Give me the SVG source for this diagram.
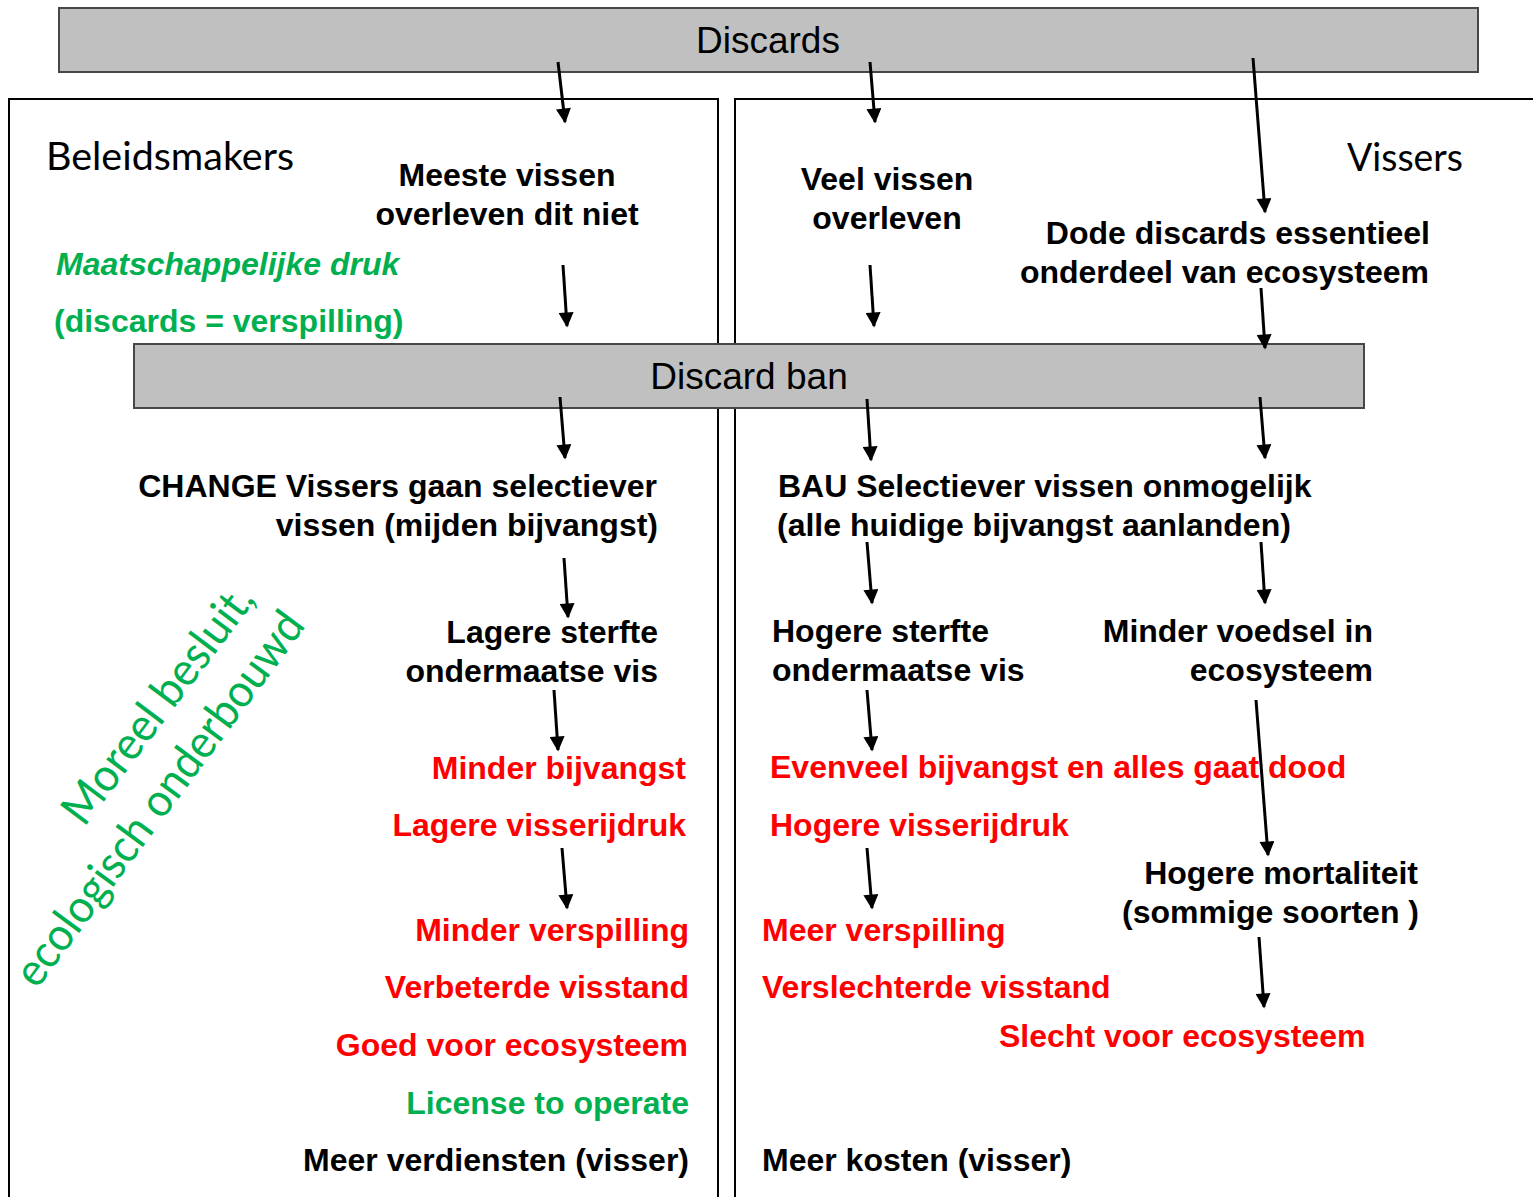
<svg xmlns="http://www.w3.org/2000/svg" width="1533" height="1197" viewBox="0 0 1533 1197">
<defs>
<marker id="ah" viewBox="0 0 10 10" refX="9" refY="5" markerWidth="5.5" markerHeight="5" orient="auto" markerUnits="strokeWidth">
<path d="M0,0 L10,5 L0,10 z" fill="#000"/>
</marker>
</defs>
<style>
.bar{fill:#c0c0c0;stroke:#474747;stroke-width:2}
.frame{fill:none;stroke:#000;stroke-width:2}
.big{font-family:"Liberation Sans",Arial,sans-serif;font-size:37px;fill:#000}
.cal{font-family:Lato,"Open Sans",sans-serif;font-size:38px;fill:#000}
.b{font-family:"Liberation Sans",Arial,sans-serif;font-weight:bold;font-size:32px;fill:#000}
.r{fill:#ff0000}
.g{fill:#00b050}
.it{font-style:italic}
.e{text-anchor:end}
.m{text-anchor:middle}
.rot{font-family:Lato,"Open Sans",sans-serif;font-size:46px;fill:#00b050}
.c line{stroke:#000;stroke-width:3;marker-end:url(#ah)}
</style>
<g id="frames">
<path class="frame" d="M9,1197 V99 H718 V1197"/>
<path class="frame" d="M735,1197 V99 H1533"/>
</g>
<g id="discards">
<rect class="bar" x="59" y="8" width="1419" height="64"/>
<text class="big m" x="768" y="53">Discards</text>
</g>
<g id="discardban">
<rect class="bar" x="134" y="344" width="1230" height="64"/>
<text class="big m" x="749" y="389">Discard ban</text>
</g>
<g id="beleidsmakers"><text class="cal" x="46" y="170" textLength="248" lengthAdjust="spacingAndGlyphs">Beleidsmakers</text></g>
<g id="vissers"><text class="cal" x="1347" y="171" textLength="116" lengthAdjust="spacingAndGlyphs">Vissers</text></g>
<g id="n-meeste">
<text class="b m" x="507" y="186">Meeste vissen</text>
<text class="b m" x="507" y="225">overleven dit niet</text>
</g>
<g id="n-druk">
<text class="b g it" x="56" y="275">Maatschappelijke druk</text>
<text class="b g" x="54" y="332">(discards = verspilling)</text>
</g>
<g id="n-veel">
<text class="b m" x="887" y="190">Veel vissen</text>
<text class="b m" x="887" y="229">overleven</text>
</g>
<g id="n-dode">
<text class="b e" x="1430" y="244">Dode discards essentieel</text>
<text class="b e" x="1429" y="283">onderdeel van ecosysteem</text>
</g>
<g id="n-change">
<text class="b e" x="657" y="497">CHANGE Vissers gaan selectiever</text>
<text class="b e" x="658" y="536">vissen (mijden bijvangst)</text>
</g>
<g id="n-bau">
<text class="b" x="778" y="497">BAU Selectiever vissen onmogelijk</text>
<text class="b" x="777" y="536">(alle huidige bijvangst aanlanden)</text>
</g>
<g id="n-lagere">
<text class="b e" x="658" y="643">Lagere sterfte</text>
<text class="b e" x="658" y="682">ondermaatse vis</text>
</g>
<g id="n-hogere">
<text class="b" x="772" y="642">Hogere sterfte</text>
<text class="b" x="772" y="681">ondermaatse vis</text>
</g>
<g id="n-voedsel">
<text class="b e" x="1373" y="642">Minder voedsel in</text>
<text class="b e" x="1373" y="681">ecosysteem</text>
</g>
<g id="n-left-effects">
<text class="b r e" x="686" y="779">Minder bijvangst</text>
<text class="b r e" x="686" y="836">Lagere visserijdruk</text>
</g>
<g id="n-right-effects">
<text class="b r" x="770" y="778">Evenveel bijvangst en alles gaat dood</text>
<text class="b r" x="770" y="836">Hogere visserijdruk</text>
</g>
<g id="n-mortaliteit">
<text class="b e" x="1418" y="884">Hogere mortaliteit</text>
<text class="b e" x="1419" y="923">(sommige soorten )</text>
</g>
<g id="n-left-results">
<text class="b r e" x="689" y="941">Minder verspilling</text>
<text class="b r e" x="689" y="998">Verbeterde visstand</text>
<text class="b r e" x="688" y="1056">Goed voor ecosysteem</text>
<text class="b g e" x="689" y="1114">License to operate</text>
<text class="b e" x="689" y="1171">Meer verdiensten (visser)</text>
</g>
<g id="n-right-results">
<text class="b r" x="762" y="941">Meer verspilling</text>
<text class="b r" x="762" y="998">Verslechterde visstand</text>
<text class="b r" x="999" y="1047">Slecht voor ecosysteem</text>
<text class="b" x="762" y="1171">Meer kosten (visser)</text>
</g>
<g id="moreel">
<text class="rot" transform="translate(84,828) rotate(-53)" textLength="286" lengthAdjust="spacingAndGlyphs">Moreel besluit,</text>
<text class="rot" transform="translate(37,990) rotate(-53.5)" textLength="453" lengthAdjust="spacingAndGlyphs">ecologisch onderbouwd</text>
</g>
<g id="connectors" class="c">
<line x1="558" y1="62" x2="565" y2="122"/>
<line x1="870" y1="62" x2="875" y2="122"/>
<line x1="1253" y1="58" x2="1265" y2="212"/>
<line x1="563" y1="265" x2="567" y2="326"/>
<line x1="870" y1="265" x2="874" y2="326"/>
<line x1="1261" y1="288" x2="1265" y2="348"/>
<line x1="560" y1="397" x2="565" y2="458"/>
<line x1="867" y1="399" x2="871" y2="460"/>
<line x1="1260" y1="397" x2="1265" y2="458"/>
<line x1="564" y1="558" x2="568" y2="617"/>
<line x1="867" y1="542" x2="872" y2="603"/>
<line x1="1261" y1="542" x2="1265" y2="603"/>
<line x1="554" y1="690" x2="558" y2="750"/>
<line x1="867" y1="690" x2="872" y2="750"/>
<line x1="1256" y1="700" x2="1268" y2="855"/>
<line x1="562" y1="848" x2="567" y2="908"/>
<line x1="867" y1="848" x2="872" y2="908"/>
<line x1="1259" y1="937" x2="1264" y2="1007"/>
</g>
</svg>
